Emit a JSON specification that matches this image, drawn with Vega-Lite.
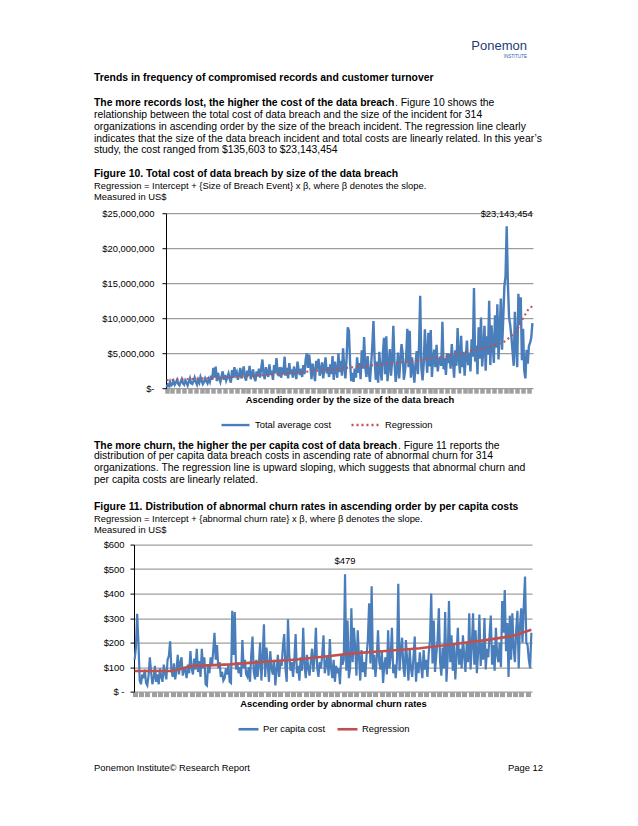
{
  "$schema": "https://vega.github.io/schema/vega-lite/v6.json",
  "background": "white",
  "padding": {"left": 94, "top": 0, "right": 10, "bottom": 10},
  "autosize": {"type": "pad"},
  "config": {
    "font": "Liberation Sans",
    "view": {"stroke": null},
    "title": {
      "anchor": "start", "offset": 0, "font": "Liberation Sans", "fontSize": 10.4, "fontWeight": "normal",
      "color": "#000", "lineHeight": 11.8, "subtitleFont": "Liberation Sans", "subtitleFontSize": 9.4,
      "subtitleColor": "#000", "subtitleLineHeight": 11, "subtitlePadding": 2.5
    },
    "axis": {
      "labelFont": "Liberation Sans", "labelFontSize": 9.4, "labelColor": "#000",
      "titleFont": "Liberation Sans", "titleFontSize": 9.4, "titleFontWeight": "bold", "titleColor": "#000"
    },
    "legend": {"labelFont": "Liberation Sans", "labelFontSize": 9.4, "labelColor": "#000"}
  },
  "datasets": {
    "cost": [
      {"i":0,"v":0.14},{"i":1,"v":0.5},{"i":2,"v":0.3},{"i":3,"v":0.9},{"i":4,"v":0.4},{"i":5,"v":0.6},{"i":6,"v":1.0},{"i":7,"v":0.5},{"i":8,"v":0.8},{"i":9,"v":1.2},
      {"i":10,"v":0.6},{"i":11,"v":0.4},{"i":12,"v":0.9},{"i":13,"v":1.3},{"i":14,"v":0.7},{"i":15,"v":0.5},{"i":16,"v":1.1},{"i":17,"v":0.8},{"i":18,"v":0.4},{"i":19,"v":0.9},
      {"i":20,"v":1.4},{"i":21,"v":0.7},{"i":22,"v":0.6},{"i":23,"v":1.0},{"i":24,"v":1.5},{"i":25,"v":0.9},{"i":26,"v":0.5},{"i":27,"v":1.2},{"i":28,"v":0.8},{"i":29,"v":1.6},
      {"i":30,"v":1.1},{"i":31,"v":0.6},{"i":32,"v":0.9},{"i":33,"v":1.4},{"i":34,"v":1.0},{"i":35,"v":0.7},{"i":36,"v":1.3},{"i":37,"v":0.9},{"i":38,"v":1.8},{"i":39,"v":1.2},
      {"i":40,"v":2.9},{"i":41,"v":1.5},{"i":42,"v":3.1},{"i":43,"v":1.0},{"i":44,"v":2.2},{"i":45,"v":1.4},{"i":46,"v":0.9},{"i":47,"v":1.7},{"i":48,"v":2.4},{"i":49,"v":1.2},
      {"i":50,"v":1.9},{"i":51,"v":1.1},{"i":52,"v":1.6},{"i":53,"v":2.1},{"i":54,"v":1.3},{"i":55,"v":0.8},{"i":56,"v":2.6},{"i":57,"v":1.5},{"i":58,"v":3.0},{"i":59,"v":1.9},
      {"i":60,"v":2.3},{"i":61,"v":1.2},{"i":62,"v":1.8},{"i":63,"v":2.9},{"i":64,"v":1.4},{"i":65,"v":2.2},{"i":66,"v":3.1},{"i":67,"v":1.6},{"i":68,"v":1.1},{"i":69,"v":2.5},
      {"i":70,"v":1.8},{"i":71,"v":3.2},{"i":72,"v":1.3},{"i":73,"v":2.0},{"i":74,"v":2.7},{"i":75,"v":1.5},{"i":76,"v":1.0},{"i":77,"v":2.4},{"i":78,"v":1.7},{"i":79,"v":2.8},
      {"i":80,"v":1.5},{"i":81,"v":2.9},{"i":82,"v":4.1},{"i":83,"v":2.0},{"i":84,"v":1.3},{"i":85,"v":3.0},{"i":86,"v":2.2},{"i":87,"v":1.6},{"i":88,"v":3.4},{"i":89,"v":1.9},
      {"i":90,"v":2.5},{"i":91,"v":1.2},{"i":92,"v":3.3},{"i":93,"v":2.1},{"i":94,"v":4.3},{"i":95,"v":2.4},{"i":96,"v":1.7},{"i":97,"v":3.0},{"i":98,"v":1.5},{"i":99,"v":2.6},
      {"i":100,"v":2.3},{"i":101,"v":4.5},{"i":102,"v":1.8},{"i":103,"v":2.9},{"i":104,"v":1.4},{"i":105,"v":3.6},{"i":106,"v":2.0},{"i":107,"v":2.7},{"i":108,"v":1.5},{"i":109,"v":3.1},
      {"i":110,"v":2.2},{"i":111,"v":1.3},{"i":112,"v":3.8},{"i":113,"v":2.5},{"i":114,"v":1.9},{"i":115,"v":2.8},{"i":116,"v":1.6},{"i":117,"v":3.3},{"i":118,"v":2.0},{"i":119,"v":4.1},
      {"i":120,"v":5.0},{"i":121,"v":2.9},{"i":122,"v":4.8},{"i":123,"v":3.2},{"i":124,"v":1.3},{"i":125,"v":3.5},{"i":126,"v":2.4},{"i":127,"v":1.0},{"i":128,"v":3.9},{"i":129,"v":2.7},
      {"i":130,"v":4.2},{"i":131,"v":1.8},{"i":132,"v":2.5},{"i":133,"v":3.7},{"i":134,"v":1.4},{"i":135,"v":2.9},{"i":136,"v":4.4},{"i":137,"v":2.1},{"i":138,"v":3.0},{"i":139,"v":1.6},
      {"i":140,"v":3.4},{"i":141,"v":2.0},{"i":142,"v":4.6},{"i":143,"v":1.2},{"i":144,"v":3.8},{"i":145,"v":2.6},{"i":146,"v":1.5},{"i":147,"v":5.0},{"i":148,"v":2.3},{"i":149,"v":3.9},
      {"i":150,"v":1.8},{"i":151,"v":5.7},{"i":152,"v":3.0},{"i":153,"v":1.4},{"i":154,"v":4.2},{"i":155,"v":8.7},{"i":156,"v":8.2},{"i":157,"v":3.6},{"i":158,"v":1.0},{"i":159,"v":2.2},
      {"i":160,"v":0.9},{"i":161,"v":2.8},{"i":162,"v":1.5},{"i":163,"v":4.4},{"i":164,"v":2.2},{"i":165,"v":3.6},{"i":166,"v":1.3},{"i":167,"v":5.4},{"i":168,"v":2.8},{"i":169,"v":7.3},
      {"i":170,"v":3.0},{"i":171,"v":1.6},{"i":172,"v":4.6},{"i":173,"v":2.4},{"i":174,"v":0.9},{"i":175,"v":3.3},{"i":176,"v":6.0},{"i":177,"v":9.6},{"i":178,"v":4.1},{"i":179,"v":1.2},
      {"i":180,"v":3.8},{"i":181,"v":0.8},{"i":182,"v":5.2},{"i":183,"v":2.6},{"i":184,"v":1.1},{"i":185,"v":4.7},{"i":186,"v":7.2},{"i":187,"v":2.0},{"i":188,"v":7.4},{"i":189,"v":1.0},
      {"i":190,"v":3.1},{"i":191,"v":5.6},{"i":192,"v":1.8},{"i":193,"v":4.0},{"i":194,"v":8.9},{"i":195,"v":3.7},{"i":196,"v":0.9},{"i":197,"v":2.6},{"i":198,"v":5.1},{"i":199,"v":1.4},
      {"i":200,"v":3.9},{"i":201,"v":6.3},{"i":202,"v":5.0},{"i":203,"v":1.2},{"i":204,"v":2.4},{"i":205,"v":4.6},{"i":206,"v":8.5},{"i":207,"v":3.0},{"i":208,"v":8.2},{"i":209,"v":1.5},
      {"i":210,"v":4.4},{"i":211,"v":2.7},{"i":212,"v":0.8},{"i":213,"v":3.6},{"i":214,"v":5.3},{"i":215,"v":2.0},{"i":216,"v":6.1},{"i":217,"v":13.2},{"i":218,"v":2.9},{"i":219,"v":1.1},
      {"i":220,"v":3.5},{"i":221,"v":8.4},{"i":222,"v":4.8},{"i":223,"v":2.2},{"i":224,"v":7.9},{"i":225,"v":3.1},{"i":226,"v":8.3},{"i":227,"v":1.6},{"i":228,"v":4.2},{"i":229,"v":5.5},
      {"i":230,"v":3.0},{"i":231,"v":6.2},{"i":232,"v":2.4},{"i":233,"v":3.8},{"i":234,"v":4.5},{"i":235,"v":3.2},{"i":236,"v":9.5},{"i":237,"v":2.7},{"i":238,"v":4.3},{"i":239,"v":1.9},
      {"i":240,"v":5.0},{"i":241,"v":3.6},{"i":242,"v":4.9},{"i":243,"v":2.8},{"i":244,"v":6.3},{"i":245,"v":3.9},{"i":246,"v":1.5},{"i":247,"v":5.4},{"i":248,"v":3.2},{"i":249,"v":8.6},
      {"i":250,"v":4.4},{"i":251,"v":2.1},{"i":252,"v":7.5},{"i":253,"v":3.0},{"i":254,"v":5.2},{"i":255,"v":1.8},{"i":256,"v":4.6},{"i":257,"v":6.8},{"i":258,"v":3.3},{"i":259,"v":5.1},
      {"i":260,"v":2.4},{"i":261,"v":7.0},{"i":262,"v":4.5},{"i":263,"v":14.3},{"i":264,"v":3.8},{"i":265,"v":6.1},{"i":266,"v":2.0},{"i":267,"v":8.7},{"i":268,"v":4.2},{"i":269,"v":10.1},
      {"i":270,"v":3.1},{"i":271,"v":5.6},{"i":272,"v":8.9},{"i":273,"v":2.5},{"i":274,"v":7.4},{"i":275,"v":4.8},{"i":276,"v":12.5},{"i":277,"v":3.3},{"i":278,"v":9.0},{"i":279,"v":6.2},
      {"i":280,"v":3.6},{"i":281,"v":10.4},{"i":282,"v":5.8},{"i":283,"v":12.0},{"i":284,"v":4.1},{"i":285,"v":8.3},{"i":286,"v":12.8},{"i":287,"v":5.5},{"i":288,"v":9.8},{"i":289,"v":14.5},
      {"i":290,"v":16.0},{"i":291,"v":23.143454},{"i":292,"v":15.0},{"i":293,"v":10.2},{"i":294,"v":9.0},{"i":295,"v":7.4},{"i":296,"v":5.3},{"i":297,"v":3.2},{"i":298,"v":10.9},{"i":299,"v":6.0},
      {"i":300,"v":3.0},{"i":301,"v":13.5},{"i":302,"v":9.0},{"i":303,"v":13.0},{"i":304,"v":4.0},{"i":305,"v":8.5},{"i":306,"v":2.5},{"i":307,"v":1.4},{"i":308,"v":5.5},{"i":309,"v":3.5},
      {"i":310,"v":6.0},{"i":311,"v":6.5},{"i":312,"v":7.2},{"i":313,"v":9.3}
    ],
    "reg1": [
      {"i":0,"v":1.15},{"i":30,"v":1.4},{"i":60,"v":1.6},{"i":90,"v":1.95},{"i":120,"v":2.35},{"i":157,"v":2.95},{"i":185,"v":3.4},{"i":214,"v":3.95},
      {"i":242,"v":4.6},{"i":271,"v":5.7},{"i":288,"v":6.5},{"i":299,"v":8.0},{"i":305,"v":10.0},{"i":310,"v":11.4},{"i":313,"v":11.7}
    ],
    "peak1": [{"i":291,"v":23.143454,"label":"$23,143,454"}],
    "pc": [
      {"i":0,"v":130},{"i":1,"v":180},{"i":2,"v":318},{"i":3,"v":200},{"i":4,"v":45},{"i":5,"v":30},{"i":6,"v":70},{"i":7,"v":55},{"i":8,"v":90},{"i":9,"v":35},
      {"i":10,"v":25},{"i":11,"v":65},{"i":12,"v":140},{"i":13,"v":80},{"i":14,"v":30},{"i":15,"v":55},{"i":16,"v":105},{"i":17,"v":40},{"i":18,"v":70},{"i":19,"v":30},
      {"i":20,"v":95},{"i":21,"v":60},{"i":22,"v":40},{"i":23,"v":110},{"i":24,"v":75},{"i":25,"v":50},{"i":26,"v":130},{"i":27,"v":145},{"i":28,"v":205},{"i":29,"v":90},
      {"i":30,"v":60},{"i":31,"v":115},{"i":32,"v":50},{"i":33,"v":85},{"i":34,"v":150},{"i":35,"v":70},{"i":36,"v":120},{"i":37,"v":140},{"i":38,"v":65},{"i":39,"v":100},
      {"i":40,"v":85},{"i":41,"v":55},{"i":42,"v":110},{"i":43,"v":75},{"i":44,"v":165},{"i":45,"v":95},{"i":46,"v":70},{"i":47,"v":135},{"i":48,"v":90},{"i":49,"v":175},
      {"i":50,"v":80},{"i":51,"v":125},{"i":52,"v":60},{"i":53,"v":175},{"i":54,"v":95},{"i":55,"v":140},{"i":56,"v":30},{"i":57,"v":25},{"i":58,"v":110},{"i":59,"v":75},
      {"i":60,"v":140},{"i":61,"v":105},{"i":62,"v":165},{"i":63,"v":240},{"i":64,"v":130},{"i":65,"v":190},{"i":66,"v":95},{"i":67,"v":120},{"i":68,"v":60},{"i":69,"v":80},
      {"i":70,"v":45},{"i":71,"v":55},{"i":72,"v":95},{"i":73,"v":70},{"i":74,"v":110},{"i":75,"v":40},{"i":76,"v":35},{"i":77,"v":330},{"i":78,"v":150},{"i":79,"v":325},
      {"i":80,"v":90},{"i":81,"v":120},{"i":82,"v":75},{"i":83,"v":100},{"i":84,"v":60},{"i":85,"v":210},{"i":86,"v":95},{"i":87,"v":130},{"i":88,"v":70},{"i":89,"v":60},
      {"i":90,"v":100},{"i":91,"v":40},{"i":92,"v":150},{"i":93,"v":225},{"i":94,"v":80},{"i":95,"v":50},{"i":96,"v":130},{"i":97,"v":60},{"i":98,"v":110},{"i":99,"v":200},
      {"i":100,"v":45},{"i":101,"v":140},{"i":102,"v":275},{"i":103,"v":60},{"i":104,"v":180},{"i":105,"v":110},{"i":106,"v":40},{"i":107,"v":165},{"i":108,"v":95},{"i":109,"v":70},
      {"i":110,"v":130},{"i":111,"v":25},{"i":112,"v":85},{"i":113,"v":150},{"i":114,"v":60},{"i":115,"v":120},{"i":116,"v":105},{"i":117,"v":185},{"i":118,"v":235},{"i":119,"v":95},
      {"i":120,"v":40},{"i":121,"v":295},{"i":122,"v":150},{"i":123,"v":85},{"i":124,"v":120},{"i":125,"v":60},{"i":126,"v":130},{"i":127,"v":235},{"i":128,"v":75},{"i":129,"v":105},
      {"i":130,"v":45},{"i":131,"v":140},{"i":132,"v":85},{"i":133,"v":260},{"i":134,"v":110},{"i":135,"v":55},{"i":136,"v":150},{"i":137,"v":95},{"i":138,"v":65},{"i":139,"v":125},
      {"i":140,"v":175},{"i":141,"v":80},{"i":142,"v":140},{"i":143,"v":260},{"i":144,"v":100},{"i":145,"v":60},{"i":146,"v":120},{"i":147,"v":95},{"i":148,"v":150},{"i":149,"v":230},
      {"i":150,"v":75},{"i":151,"v":110},{"i":152,"v":145},{"i":153,"v":65},{"i":154,"v":215},{"i":155,"v":95},{"i":156,"v":55},{"i":157,"v":130},{"i":158,"v":40},{"i":159,"v":105},
      {"i":160,"v":75},{"i":161,"v":95},{"i":162,"v":30},{"i":163,"v":150},{"i":164,"v":110},{"i":165,"v":130},{"i":166,"v":479},{"i":167,"v":85},{"i":168,"v":290},{"i":169,"v":55},
      {"i":170,"v":95},{"i":171,"v":340},{"i":172,"v":120},{"i":173,"v":260},{"i":174,"v":180},{"i":175,"v":65},{"i":176,"v":250},{"i":177,"v":140},{"i":178,"v":45},{"i":179,"v":170},
      {"i":180,"v":80},{"i":181,"v":120},{"i":182,"v":60},{"i":183,"v":150},{"i":184,"v":210},{"i":185,"v":360},{"i":186,"v":115},{"i":187,"v":430},{"i":188,"v":90},{"i":189,"v":150},
      {"i":190,"v":60},{"i":191,"v":135},{"i":192,"v":250},{"i":193,"v":120},{"i":194,"v":90},{"i":195,"v":170},{"i":196,"v":35},{"i":197,"v":110},{"i":198,"v":140},{"i":199,"v":70},
      {"i":200,"v":250},{"i":201,"v":95},{"i":202,"v":145},{"i":203,"v":260},{"i":204,"v":75},{"i":205,"v":110},{"i":206,"v":55},{"i":207,"v":130},{"i":208,"v":440},{"i":209,"v":85},
      {"i":210,"v":160},{"i":211,"v":220},{"i":212,"v":100},{"i":213,"v":60},{"i":214,"v":210},{"i":215,"v":130},{"i":216,"v":45},{"i":217,"v":170},{"i":218,"v":95},{"i":219,"v":60},
      {"i":220,"v":140},{"i":221,"v":225},{"i":222,"v":40},{"i":223,"v":120},{"i":224,"v":75},{"i":225,"v":160},{"i":226,"v":105},{"i":227,"v":55},{"i":228,"v":170},{"i":229,"v":90},
      {"i":230,"v":130},{"i":231,"v":60},{"i":232,"v":155},{"i":233,"v":210},{"i":234,"v":400},{"i":235,"v":115},{"i":236,"v":290},{"i":237,"v":80},{"i":238,"v":150},{"i":239,"v":210},
      {"i":240,"v":340},{"i":241,"v":120},{"i":242,"v":65},{"i":243,"v":180},{"i":244,"v":95},{"i":245,"v":325},{"i":246,"v":40},{"i":247,"v":140},{"i":248,"v":370},{"i":249,"v":120},
      {"i":250,"v":230},{"i":251,"v":85},{"i":252,"v":190},{"i":253,"v":50},{"i":254,"v":150},{"i":255,"v":260},{"i":256,"v":110},{"i":257,"v":175},{"i":258,"v":95},{"i":259,"v":230},
      {"i":260,"v":145},{"i":261,"v":80},{"i":262,"v":200},{"i":263,"v":120},{"i":264,"v":320},{"i":265,"v":90},{"i":266,"v":180},{"i":267,"v":320},{"i":268,"v":110},{"i":269,"v":250},
      {"i":270,"v":75},{"i":271,"v":160},{"i":272,"v":315},{"i":273,"v":105},{"i":274,"v":200},{"i":275,"v":130},{"i":276,"v":300},{"i":277,"v":90},{"i":278,"v":175},{"i":279,"v":140},
      {"i":280,"v":230},{"i":281,"v":310},{"i":282,"v":110},{"i":283,"v":190},{"i":284,"v":85},{"i":285,"v":260},{"i":286,"v":150},{"i":287,"v":120},{"i":288,"v":200},{"i":289,"v":100},
      {"i":290,"v":370},{"i":291,"v":240},{"i":292,"v":415},{"i":293,"v":165},{"i":294,"v":280},{"i":295,"v":60},{"i":296,"v":310},{"i":297,"v":130},{"i":298,"v":320},{"i":299,"v":180},
      {"i":300,"v":120},{"i":301,"v":250},{"i":302,"v":330},{"i":303,"v":95},{"i":304,"v":270},{"i":305,"v":340},{"i":306,"v":200},{"i":307,"v":350},{"i":308,"v":470},{"i":309,"v":200},
      {"i":310,"v":190},{"i":311,"v":130},{"i":312,"v":95},{"i":313,"v":240}
    ],
    "reg2": [
      {"i":0,"v":84},{"i":30,"v":84},{"i":38,"v":95},{"i":45,"v":104},{"i":75,"v":111},{"i":102,"v":122},{"i":128,"v":131},{"i":154,"v":145},
      {"i":172,"v":156},{"i":198,"v":166},{"i":225,"v":177},{"i":251,"v":193},{"i":277,"v":210},{"i":298,"v":227},{"i":313,"v":252}
    ],
    "peak2": [{"i":166,"v":479,"label":"$479"}]
  },
  "columns": 1,
  "align": "none",
  "spacing": 5,
  "resolve": {"scale": {"color": "independent"}, "legend": {"color": "independent"}},
  "concat": [
    {
      "columns": 1,
      "align": "none",
      "spacing": 11.4,
      "resolve": {"scale": {"color": "independent"}, "legend": {"color": "independent"}},
      "concat": [
        {
          "width": 450, "height": 35.5, "data": {"values": []}, "mark": "point",
          "title": {"text": "Ponemon", "orient": "bottom", "anchor": "end", "dx": -17, "fontSize": 13, "color": "#1F3C74",
            "subtitle": "INSTITUTE", "subtitleFontSize": 4.5, "subtitleColor": "#1F5FA8", "subtitlePadding": 1}
        },
        {
          "width": 450, "height": 0.2, "data": {"values": []}, "mark": "point",
          "title": {"text": "Trends in frequency of compromised records and customer turnover", "orient": "bottom", "fontWeight": "bold", "dy": -0.3}
        },
        {
          "columns": 1,
          "align": "none",
          "spacing": 0,
          "concat": [
            {
              "spacing": 0,
              "hconcat": [
                {
                  "width": 1, "height": 0.2, "data": {"values": []}, "mark": "point",
                  "title": {"text": "The more records lost, the higher the cost of the data breach", "orient": "bottom", "fontWeight": "bold", "dy": -2}
                },
                {
                  "width": 1, "height": 0.2, "data": {"values": []}, "mark": "point",
                  "title": {"text": ". Figure 10 shows the", "orient": "bottom", "dy": -2}
                }
              ]
            },
            {
              "width": 450, "height": 0.2, "data": {"values": []}, "mark": "point",
              "title": {"orient": "bottom", "dy": -3, "text": [
                "relationship between the total cost of data breach and the size of the incident for 314",
                "organizations in ascending order by the size of the breach incident. The regression line clearly",
                "indicates that the size of the data breach incident and total costs are linearly related. In this year’s",
                "study, the cost ranged from $135,603 to $23,143,454"
              ]}
            }
          ]
        },
        {
          "spacing": 0,
          "bounds": "flush",
          "resolve": {"scale": {"color": "independent"}, "legend": {"color": "independent"}},
          "hconcat": [
            {"width": 72, "height": 1, "data": {"values": []}, "mark": "point"},
            {
              "width": 367, "height": 175,
              "title": {
                "text": "Figure 10. Total cost of data breach by size of the data breach", "fontWeight": "bold", "offset": 6.8,
                "subtitle": ["Regression = Intercept + {Size of Breach Event} x β, where β denotes the slope.", "Measured in US$"]
              },
              "encoding": {
                "x": {
                  "field": "i", "type": "quantitative",
                  "scale": {"domain": [-0.5, 313.5], "nice": false, "zero": false},
                  "axis": {
                    "title": "Ascending order by the size of the data breach", "labels": false, "grid": false, "domain": false,
                    "tickCount": 63, "tickColor": "#A0A0A0", "tickSize": 5, "tickWidth": 4.5, "titlePadding": 0.3
                  }
                }
              },
              "layer": [
                {
                  "data": {"name": "cost"},
                  "mark": {"type": "line", "strokeWidth": 2.4},
                  "encoding": {
                    "y": {
                      "field": "v", "type": "quantitative", "scale": {"domain": [0, 25], "nice": false},
                      "axis": {
                        "title": null, "tickCount": 5, "minExtent": 72, "labelPadding": 8, "tickSize": 4,
                        "tickColor": "#000", "domainColor": "#000", "gridColor": "#868686",
                        "labelExpr": "datum.value == 0 ? '$-' : '$' + format(datum.value * 1000000, ',')"
                      }
                    },
                    "color": {
                      "datum": "Total average cost", "type": "nominal",
                      "scale": {"domain": ["Total average cost", "Regression"], "range": ["#4A7EBB", "#C0504D"]},
                      "legend": {
                        "orient": "none", "legendX": 54, "legendY": 196, "direction": "horizontal", "title": null,
                        "symbolType": "stroke", "symbolSize": 784, "symbolStrokeWidth": 2.4, "columnPadding": 14, "labelOffset": 4,
                        "encode": {"symbols": {"update": {"strokeDash": {"signal": "datum.value === 'Regression' ? [2, 3] : []"}}}}
                      }
                    }
                  }
                },
                {
                  "data": {"name": "reg1"},
                  "mark": {"type": "line", "strokeWidth": 2, "strokeDash": [2, 3]},
                  "encoding": {
                    "y": {"field": "v", "type": "quantitative"},
                    "color": {"datum": "Regression", "type": "nominal"}
                  }
                },
                {
                  "data": {"name": "peak1"},
                  "mark": {"type": "text", "baseline": "bottom", "dy": -7, "fontSize": 9.4, "color": "#000"},
                  "encoding": {
                    "y": {"field": "v", "type": "quantitative"},
                    "text": {"field": "label"}
                  }
                }
              ]
            }
          ]
        }
      ]
    },
    {
      "columns": 1,
      "align": "none",
      "spacing": 15.6,
      "resolve": {"scale": {"color": "independent"}, "legend": {"color": "independent"}},
      "concat": [
        {
          "columns": 1,
          "align": "none",
          "spacing": 0,
          "concat": [
            {
              "spacing": 0,
              "hconcat": [
                {
                  "width": 1, "height": 0.5, "data": {"values": []}, "mark": "point",
                  "title": {"text": "The more churn, the higher the per capita cost of data breach", "orient": "bottom", "fontWeight": "bold"}
                },
                {
                  "width": 1, "height": 0.5, "data": {"values": []}, "mark": "point",
                  "title": {"text": ". Figure 11 reports the", "orient": "bottom"}
                }
              ]
            },
            {
              "width": 450, "height": 0.2, "data": {"values": []}, "mark": "point",
              "title": {"orient": "bottom", "dy": -5, "text": [
                "distribution of per capita data breach costs in ascending rate of abnormal churn for 314",
                "organizations. The regression line is upward sloping, which suggests that abnormal churn and",
                "per capita costs are linearly related."
              ]}
            }
          ]
        },
        {
          "spacing": 0,
          "bounds": "flush",
          "resolve": {"scale": {"color": "independent"}, "legend": {"color": "independent"}},
          "hconcat": [
            {"width": 40, "height": 1, "data": {"values": []}, "mark": "point"},
            {
              "width": 398, "height": 147,
              "title": {
                "text": "Figure 11. Distribution of abnormal churn rates in ascending order by per capita costs", "fontWeight": "bold", "offset": 5.6,
                "subtitle": ["Regression = Intercept + {abnormal churn rate} x β, where β denotes the slope.", "Measured in US$"]
              },
              "encoding": {
                "x": {
                  "field": "i", "type": "quantitative",
                  "scale": {"domain": [-0.5, 313.5], "nice": false, "zero": false},
                  "axis": {
                    "title": "Ascending order by abnormal churn rates", "labels": false, "grid": false, "domain": false,
                    "tickCount": 63, "tickColor": "#A0A0A0", "tickSize": 5, "tickWidth": 5, "titlePadding": 0.3
                  }
                }
              },
              "layer": [
                {
                  "data": {"name": "pc"},
                  "mark": {"type": "line", "strokeWidth": 2.2},
                  "encoding": {
                    "y": {
                      "field": "v", "type": "quantitative", "scale": {"domain": [0, 600], "nice": false},
                      "axis": {
                        "title": null, "tickCount": 6, "minExtent": 40, "labelPadding": 6, "tickSize": 4,
                        "tickColor": "#000", "domainColor": "#000", "gridColor": "#868686",
                        "labelExpr": "datum.value == 0 ? '$ -' : '$' + datum.value"
                      }
                    },
                    "color": {
                      "datum": "Per capita cost", "type": "nominal",
                      "scale": {"domain": ["Per capita cost", "Regression"], "range": ["#4A7EBB", "#C0504D"]},
                      "legend": {
                        "orient": "none", "legendX": 103, "legendY": 173, "direction": "horizontal", "title": null,
                        "symbolType": "stroke", "symbolSize": 400, "symbolStrokeWidth": 2.6, "columnPadding": 6, "labelOffset": 3
                      }
                    }
                  }
                },
                {
                  "data": {"name": "reg2"},
                  "mark": {"type": "line", "strokeWidth": 2.6},
                  "encoding": {
                    "y": {"field": "v", "type": "quantitative"},
                    "color": {"datum": "Regression", "type": "nominal"}
                  }
                },
                {
                  "data": {"name": "peak2"},
                  "mark": {"type": "text", "baseline": "bottom", "dy": -8, "fontSize": 9.4, "color": "#000"},
                  "encoding": {
                    "y": {"field": "v", "type": "quantitative"},
                    "text": {"field": "label"}
                  }
                }
              ]
            }
          ]
        },
        {
          "spacing": 0,
          "hconcat": [
            {
              "width": 300, "height": 9.7, "data": {"values": []}, "mark": "point",
              "title": {"text": "Ponemon Institute© Research Report", "orient": "bottom", "fontSize": 9.4}
            },
            {
              "width": 149, "height": 9.7, "data": {"values": []}, "mark": "point",
              "title": {"text": "Page 12", "orient": "bottom", "anchor": "end", "fontSize": 9.4}
            }
          ]
        }
      ]
    }
  ]
}
